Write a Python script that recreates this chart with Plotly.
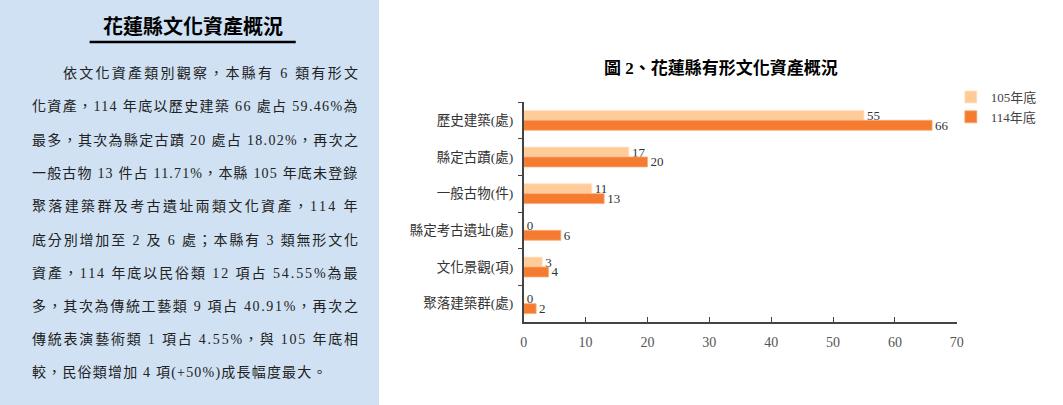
import plotly.graph_objects as go

W, H = 1063, 405

categories = ["歷史建築(處)", "縣定古蹟(處)", "一般古物(件)", "縣定考古遺址(處)", "文化景觀(項)", "聚落建築群(處)"]
series_names = ["105年底", "114年底"]
values_105 = [55, 17, 11, 0, 3, 0]
values_114 = [66, 20, 13, 6, 4, 2]
x_ticks = [0, 10, 20, 30, 40, 50, 60, 70]

chart_title = "圖 2、花蓮縣有形文化資產概況"
panel_title = "花蓮縣文化資產概況"
panel_lines = [
    "依文化資產類別觀察，本縣有 6 類有形文",
    "化資產，114 年底以歷史建築 66 處占 59.46%為",
    "最多，其次為縣定古蹟 20 處占 18.02%，再次之",
    "一般古物 13 件占 11.71%，本縣 105 年底未登錄",
    "聚落建築群及考古遺址兩類文化資產，114 年",
    "底分別增加至 2 及 6 處；本縣有 3 類無形文化",
    "資產，114 年底以民俗類 12 項占 54.55%為最",
    "多，其次為傳統工藝類 9 項占 40.91%，再次之",
    "傳統表演藝術類 1 項占 4.55%，與 105 年底相",
    "較，民俗類增加 4 項(+50%)成長幅度最大。",
]

FONT = "Liberation Serif, Noto Sans CJK TC, serif"
LIGHT = "#FFCC99"
DARK = "#F47B30"
SX = 1.0 / 0.994  # small correction for rendered scale

def px(x):
    return x * SX / W

def py(y):
    return (H - y) / H

# approximate glyph widths (em) for justifying body text lines
LATIN_W = {" ": 0.25, ".": 0.25, "%": 0.833, "(": 0.333, ")": 0.333, "+": 0.564}

def text_width(s, size):
    w = 0.0
    for ch in s:
        if ch.isdigit():
            w += 0.5
        elif ch in LATIN_W:
            w += LATIN_W[ch]
        elif ord(ch) < 128:
            w += 0.5
        else:
            w += 1.0
    return w * size

fig = go.Figure()
fig.add_trace(go.Bar(
    y=categories, x=values_105, name=series_names[0], orientation="h",
    marker=dict(color=LIGHT, line=dict(color="#FFE3C8", width=0.8)),
    text=values_105, textposition="outside", cliponaxis=False, constraintext="none",
    textfont=dict(family=FONT, size=13, color="#333333"),
))
fig.add_trace(go.Bar(
    y=categories, x=values_114, name=series_names[1], orientation="h",
    marker=dict(color=DARK, line=dict(color="#F9A874", width=0.8)),
    text=values_114, textposition="outside", cliponaxis=False, constraintext="none",
    textfont=dict(family=FONT, size=13, color="#333333"),
))

annotations = [
    dict(text="<b>" + chart_title + "</b>", x=px(720), y=py(68), xref="paper", yref="paper",
         showarrow=False, font=dict(family=FONT, size=17, color="#000000"),
         xanchor="center", yanchor="middle"),
    dict(text="<b>" + panel_title + "</b>", x=px(190), y=py(26), xref="paper", yref="paper",
         showarrow=False, font=dict(family=FONT, size=20, color="#000000"),
         xanchor="center", yanchor="middle"),
]
BODY_SIZE = 14
line_y0 = 73
line_step = 33.3
right_edge = 352
for i, line in enumerate(panel_lines):
    left = 57 if i == 0 else 26
    if i < len(panel_lines) - 1:
        nat = text_width(line, BODY_SIZE)
        sp = max((right_edge - left - nat) / max(len(line) - 1, 1), 0)
    else:
        sp = 1.2
    txt = '<span style="letter-spacing:%.2fpx">%s</span>' % (sp, line)
    annotations.append(dict(
        text=txt, x=px(left), y=py(line_y0 + i * line_step),
        xref="paper", yref="paper", showarrow=False, xanchor="left", yanchor="middle",
        font=dict(family=FONT, size=BODY_SIZE, color="#222222"),
    ))

shapes = [
    dict(type="rect", xref="paper", yref="paper", x0=-0.01, x1=379 / W, y0=0, y1=1.01,
         fillcolor="#CFE1F3", line=dict(width=0), layer="below"),
    dict(type="line", xref="paper", yref="paper", x0=px(86), x1=px(293), y0=py(42), y1=py(42),
         line=dict(color="#000000", width=2.5)),
]

fig.update_layout(
    width=W, height=H,
    margin=dict(l=0, r=0, t=0, b=0),
    paper_bgcolor="white", plot_bgcolor="white",
    barmode="group", bargap=0.46, bargroupgap=0.0,
    font=dict(family=FONT, color="#333333"),
    showlegend=True,
    legend=dict(x=px(951), y=py(82), xanchor="left", yanchor="top",
                font=dict(family=FONT, size=13, color="#444444"),
                bgcolor="rgba(0,0,0,0)", tracegroupgap=0, itemwidth=30),
    xaxis=dict(domain=[px(522), px(957)], range=[0, 70], tickvals=x_ticks,
               showgrid=False, zeroline=False, showline=True, linecolor="#444444", linewidth=1.5,
               ticks="inside", ticklen=5, tickcolor="#444444", ticklabelstandoff=6,
               tickfont=dict(family=FONT, size=14, color="#555555")),
    yaxis=dict(domain=[py(322), py(102)], autorange="reversed", type="category",
               showgrid=False, zeroline=False, showline=True, linecolor="#444444", linewidth=1.5,
               ticks="outside", ticklen=4, tickcolor="#444444", tickson="boundaries",
               tickfont=dict(family=FONT, size=13.5, color="#333333"), ticklabelstandoff=6),
    annotations=annotations,
    shapes=shapes,
)

fig.write_html("out.html", config={"displayModeBar": False},
               post_script="document.body.style.margin='0';document.body.style.padding='0';")
